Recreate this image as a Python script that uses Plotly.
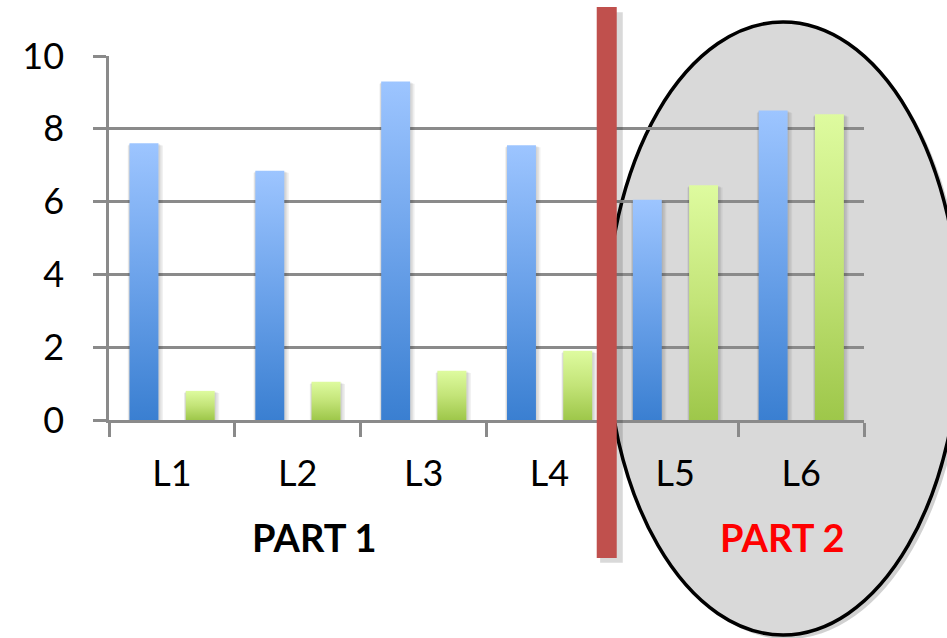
import plotly.graph_objects as go

categories = ["L1", "L2", "L3", "L4", "L5", "L6"]
series_blue = [7.6, 6.85, 9.3, 7.55, 6.05, 8.5]
series_green = [0.8, 1.05, 1.35, 1.9, 6.45, 8.4]
y_ticks = [0, 2, 4, 6, 8, 10]

BAR_W = 0.23
OFFSETS = {"blue": -0.222, "green": 0.225}
GRAD = {
    "blue": [[0, "#3a7fd1"], [0.5, "#6ba2ea"], [1, "#9dc5ff"]],
    "green": [[0, "#9ec74a"], [0.5, "#c3e478"], [1, "#defb9f"]],
}

fig = go.Figure()

def add_bars(values, key):
    for i, v in enumerate(values):
        c = i + 1 + OFFSETS[key]
        x0, x1 = c - BAR_W / 2, c + BAR_W / 2
        # soft shadow
        for k, a in enumerate([0.06, 0.06, 0.06]):
            d = 0.012 * (k + 1)
            fig.add_trace(go.Scatter(
                x=[x0 - d * 0.4, x1 + d, x1 + d, x0 - d * 0.4, x0 - d * 0.4],
                y=[0, 0, v - 0.02 * (k + 1), v - 0.02 * (k + 1), 0],
                fill="toself", mode="none", fillcolor=f"rgba(0,0,0,{a})",
                hoverinfo="skip", showlegend=False))
        fig.add_trace(go.Scatter(
            x=[x0, x1, x1, x0, x0], y=[0, 0, v, v, 0],
            fill="toself", mode="none",
            fillgradient=dict(type="vertical", colorscale=GRAD[key]),
            hoverinfo="skip", showlegend=False))

add_bars(series_blue, "blue")
add_bars(series_green, "green")

grid = "#8a8a8a"
font_family = "Lato, 'Liberation Sans', sans-serif"

fig.update_layout(
    width=947, height=638,
    margin=dict(l=109, r=83, t=56, b=218),
    paper_bgcolor="white",
    plot_bgcolor="rgba(0,0,0,0)",
    showlegend=False,
    font=dict(family=font_family, size=36, color="black"),
    xaxis=dict(
        range=[0.5, 6.5], tickvals=list(range(1, 7)), ticktext=categories,
        ticks="", showgrid=False, zeroline=False,
        showline=True, linecolor=grid, linewidth=2.5,
        ticklabelstandoff=20,
        minor=dict(tickvals=[i + 0.5 for i in range(0, 7)], ticks="outside",
                   ticklen=14, tickwidth=2.5, tickcolor=grid, showgrid=False),
    ),
    yaxis=dict(
        range=[0, 10], tickvals=y_ticks, showgrid=True, gridcolor=grid,
        gridwidth=2.5, zeroline=False, showline=True, linecolor=grid,
        linewidth=2.5, ticks="outside", ticklen=13, tickwidth=2.5,
        tickcolor=grid, ticklabelstandoff=22,
    ),
    shapes=[
        # ellipse shadow
        dict(type="circle", xref="paper", yref="paper", layer="below",
             x0=0.664, x1=1.133, y0=-0.602, y1=1.083,
             fillcolor="rgba(0,0,0,0.18)", line=dict(width=0)),
        dict(type="circle", xref="paper", yref="paper", layer="below",
             x0=0.6583, x1=1.1272, y0=-0.5907, y1=1.0934,
             fillcolor="#d9d9d9", line=dict(color="black", width=3.5)),
        # red divider shadow
        dict(type="rect", xref="paper", yref="paper", layer="above",
             x0=0.6505, x1=0.6805, y0=-0.392, y1=1.12,
             fillcolor="rgba(0,0,0,0.15)", line=dict(width=0)),
        dict(type="rect", xref="paper", yref="paper", layer="above",
             x0=0.6460, x1=0.6725, y0=-0.379, y1=1.1346,
             fillcolor="#c0504d", line=dict(width=0)),
    ],
    annotations=[
        dict(text="<b>PART 1</b>", xref="paper", yref="paper", x=0.2728,
             y=-0.321, showarrow=False, xanchor="center", yanchor="middle",
             font=dict(size=38, color="black")),
        dict(text="<b>PART 2</b>", xref="paper", yref="paper", x=0.8921,
             y=-0.321, showarrow=False, xanchor="center", yanchor="middle",
             font=dict(size=38, color="#ff0000")),
    ],
)

fig.write_html("out.html", config={"displayModeBar": False},
               post_script="document.body.style.margin='0';")
